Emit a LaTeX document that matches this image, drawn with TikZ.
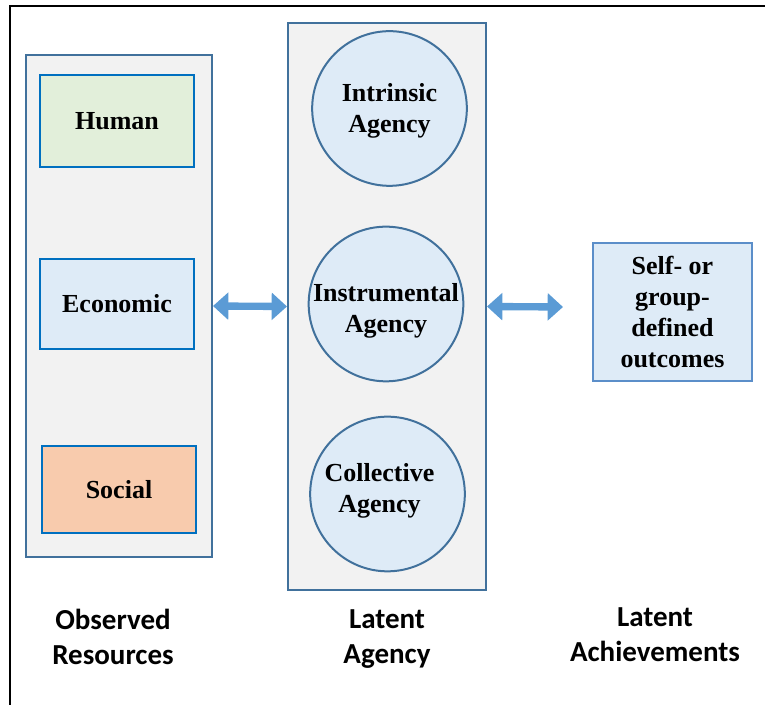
\documentclass[tikz,border=0pt]{standalone}
\usepackage{fontspec}
\setmainfont{Liberation Serif}
\newfontfamily\captionfont{Carlito}
\usepackage{xcolor}
\usepackage{tikz}
\usetikzlibrary{
  arrows.meta
}
\definecolor{groupline}{HTML}{41719C}
\definecolor{groupfill}{HTML}{F2F2F2}
\definecolor{boxline}{HTML}{0070C0}
\definecolor{humanfill}{HTML}{E2EFDA}
\definecolor{bluefill}{HTML}{DEEBF7}
\definecolor{socialfill}{HTML}{F8CBAD}
\definecolor{outline}{HTML}{5B8EC9}
\definecolor{arrowblue}{HTML}{5B9BD5}

\begin{document}
\begin{tikzpicture}[%スタイル設定
          x=0.75pt,y=-0.75pt,
          group/.style 2 args={
              draw=groupline,
              fill=groupfill,
              line width=1.5pt,
              minimum width=#1,
              minimum height=#2
            },res/.style={
              draw=boxline,
              fill=#1,
              line width=1.3pt,
              minimum width=115.5pt,
              minimum height=67pt,
              font=\bfseries\fontsize{19.5}{23.25}\selectfont
            },agent/.style={
              circle,
              draw=groupline,
              fill=bluefill,
              line width=1.5pt,
              minimum size=116pt,
              inner sep=0pt
            },agenttext/.style={
              align=center,
              inner sep=0pt,
              font=\bfseries\fontsize{19.5}{23.25}\selectfont
            },caption/.style={
              align=center,
              font=\captionfont\bfseries\fontsize{21.75}{26.25}\selectfont
            },dblarrow/.style={
              draw=arrowblue,
              line width=5.5pt,
              {Triangle[length=11.5pt,width=20pt]}-{Triangle[length=11.5pt,width=20pt]}
            }
        ]
        \useasboundingbox (0,0) rectangle (765,705);

        % 外枠
        \draw[line width=1.8pt] (10,705) -- (10,6) -- (765,6);

        % 資源
        \node[group={139.5pt}{376.5pt}] (resources) at (119,306) {};
        \node[res=humanfill, minimum height=69pt] (human) at (117,121) {Human};
        \node[res=bluefill] (economic) at (117,304) {Economic};
        \node[res=socialfill, minimum height=65.25pt] (social) at (119,489.5) {Social};

        % エージェンシー
        \node[group={148.5pt}{425.25pt}] (agency) at (387,306.5) {};
        \node[agent, label={[agenttext, yshift=-2pt]center:{Intrinsic\\Agency}}] (intrinsic) at (389.5,108.5) {};
        \node[agent, label={[agenttext, yshift=-5.5pt]center:{Instrumental\\Agency}}] (instrumental) at (386,304) {};
        \node[agent, label={[agenttext, xshift=-6pt, yshift=2.5pt]center:{Collective\\Agency}}] (collective) at (387.5,494) {};

        % 達成
        \node[
          draw=outline,
          fill=bluefill,
          line width=1.3pt,
          minimum width=119.25pt,
          minimum height=103.5pt,
          align=center,
          font=\bfseries\fontsize{19.5}{23.25}\selectfont
        ] (outcomes) at (672.5,312) {Self- or\\group-\\defined\\outcomes};

        % 矢印
        \coordinate (achieve_end) at (563,307);
        \draw[dblarrow] (resources.east) -- (agency.west);
        \draw[dblarrow] (agency.east) -- (achieve_end);

        % 見出し
        \node[caption] (cap_res) at (113,637) {Observed\\Resources};
        \node[caption] (cap_agency) at (387,639) {Latent\\Agency};
        \node[caption] (cap_ach) at (655,635) {Latent\\Achievements};
      \end{tikzpicture}
\end{document}
